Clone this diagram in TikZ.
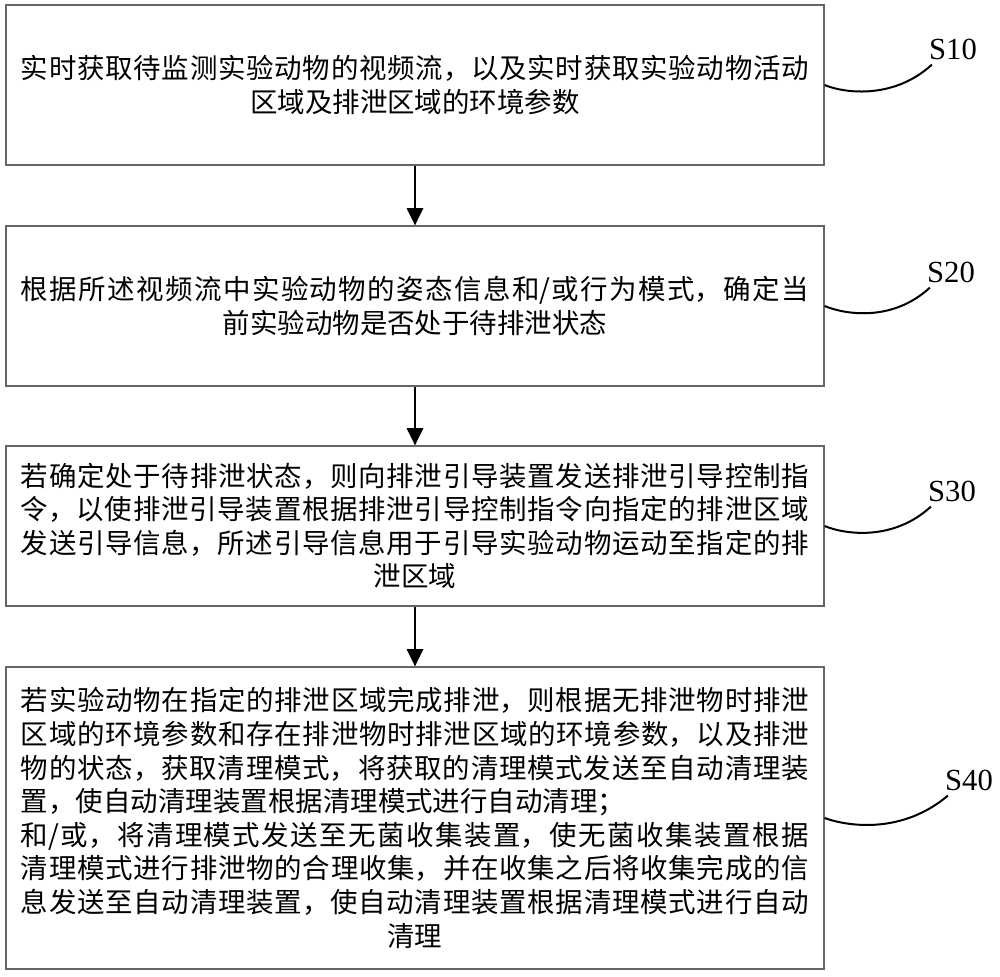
\documentclass[tikz,border=0pt]{standalone}
\usepackage{fontspec}
\setmainfont{Noto Sans CJK SC}
\newfontfamily\labfont{Liberation Serif}
\usetikzlibrary{arrows.meta}
\XeTeXlinebreaklocale "zh"
\XeTeXlinebreakskip=0pt plus 6pt
\newcommand\fullpar{\parfillskip=0pt\par\parfillskip=0pt plus 1fil}
\begin{document}
\begin{tikzpicture}[x=0.75pt,y=-0.75pt,
  stepbox/.style={draw=black!60,line width=0.8pt,minimum width=613.5pt,text width=591pt,
    inner xsep=11.25pt,inner ysep=0pt,align=justify,font=\fontsize{20.6}{25.2}\selectfont},
  flowarrow/.style={line width=2.2pt,-{Triangle[width=12pt,length=13pt]}},
  leader/.style={line width=1.5pt},
  steplabel/.style={font=\labfont\fontsize{23}{26}\selectfont,inner sep=0pt}]
\useasboundingbox (0,0) rectangle (1000,976);
\node[stepbox,minimum height=120pt] (b1) at (415,85) {实时获取待监测实验动物的视频流，以及实时获取实验动物活动\fullpar\centering 区域及排泄区域的环境参数\par};
\node[stepbox,minimum height=120pt] (b2) at (415,306) {根据所述视频流中实验动物的姿态信息和/或行为模式，确定当\fullpar\centering 前实验动物是否处于待排泄状态\par};
\node[stepbox,minimum height=120pt] (b3) at (415,526) {若确定处于待排泄状态，则向排泄引导装置发送排泄引导控制指\linebreak 令，以使排泄引导装置根据排泄引导控制指令向指定的排泄区域\linebreak 发送引导信息，所述引导信息用于引导实验动物运动至指定的排\fullpar\centering 泄区域\par};
\node[stepbox,minimum height=226.5pt] (b4) at (415,818) {若实验动物在指定的排泄区域完成排泄，则根据无排泄物时排泄\linebreak 区域的环境参数和存在排泄物时排泄区域的环境参数，以及排泄\linebreak 物的状态，获取清理模式，将获取的清理模式发送至自动清理装\linebreak 置，使自动清理装置根据清理模式进行自动清理；\par 和/或，将清理模式发送至无菌收集装置，使无菌收集装置根据\linebreak 清理模式进行排泄物的合理收集，并在收集之后将收集完成的信\linebreak 息发送至自动清理装置，使自动清理装置根据清理模式进行自动\fullpar\centering 清理\par};
\draw[flowarrow] (b1.south) -- (b2.north);
\draw[flowarrow] (b2.south) -- (b3.north);
\draw[flowarrow] (b3.south) -- (b4.north);
\node[steplabel] (s1) at (953,49) {S10};
\node[steplabel] (s2) at (951,272) {S20};
\node[steplabel] (s3) at (952,491) {S30};
\node[steplabel] (s4) at (969,780) {S40};
\draw[leader] (b1.east) .. controls +(22,9) and +(-37,34) .. ([shift={(3,5)}]s1.south west);
\draw[leader] (b2.east) .. controls +(22,9) and +(-37,34) .. ([shift={(3,5)}]s2.south west);
\draw[leader] (b3.east) .. controls +(22,9) and +(-37,34) .. ([shift={(3,5)}]s3.south west);
\draw[leader] (b4.east) .. controls +(25,9) and +(-45,38) .. ([shift={(3,5)}]s4.south west);
\end{tikzpicture}
\end{document}
